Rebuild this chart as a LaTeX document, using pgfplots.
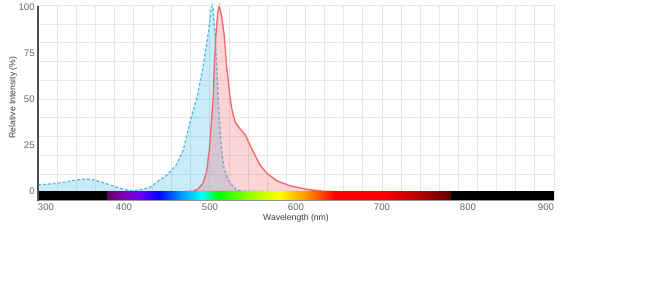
\documentclass[border=0pt]{standalone}
\usepackage{fontspec}
\setmainfont{Liberation Sans}
\usepackage{pgfplots}
\pgfplotsset{compat=1.18}

\definecolor{exline}{RGB}{80,190,235}
\definecolor{emline}{RGB}{242,105,105}
\definecolor{gridc}{RGB}{230,230,230}
\definecolor{tickc}{RGB}{102,102,102}
\definecolor{labc}{RGB}{60,60,60}
\definecolor{c380}{RGB}{97,0,97}
\definecolor{c400}{RGB}{131,0,181}
\definecolor{c420}{RGB}{106,0,255}
\definecolor{c440}{RGB}{0,0,255}
\definecolor{c465}{RGB}{0,146,255}
\definecolor{c490}{RGB}{0,255,255}
\definecolor{c510}{RGB}{0,255,0}
\definecolor{c545}{RGB}{146,255,0}
\definecolor{c580}{RGB}{255,255,0}
\definecolor{c612}{RGB}{255,146,0}
\definecolor{c645}{RGB}{255,0,0}
\definecolor{c700}{RGB}{255,0,0}
\definecolor{c740}{RGB}{190,0,0}
\definecolor{c780}{RGB}{97,0,0}

\pgfdeclarehorizontalshading{visspec}{100bp}{color(0bp)=(black); color(31.66bp)=(black); color(31.67bp)=(c380); color(33.333bp)=(c400); color(35bp)=(c420); color(36.667bp)=(c440); color(38.75bp)=(c465); color(40.833bp)=(c490); color(42.5bp)=(c510); color(45.417bp)=(c545); color(48.333bp)=(c580); color(51bp)=(c612); color(53.75bp)=(c645); color(58.333bp)=(c700); color(61.667bp)=(c740); color(65bp)=(c780); color(65.01bp)=(black); color(100bp)=(black)}

\begin{document}
\begin{tikzpicture}
\useasboundingbox (-28.5pt,-72.375pt) rectangle (460.5pt,150.375pt);
\begin{axis}[
  at={(0,0)}, anchor=south west,
  scale only axis, width=387pt, height=146.1pt,
  xmin=300, xmax=900, ymin=-4.84, ymax=101,
  clip=false,
  axis line style={draw=none},
  major tick length=0pt, minor tick length=0pt,
  /pgf/number format/assume math mode=true,
  xtick={400,500,600,700,800},
  extra x ticks={300,900},
  extra x tick labels={\makebox[0pt][l]{300},\makebox[0pt][r]{900}},
  extra x tick style={grid=none},
  ytick={0,25,50,75,100},
  minor xtick={322.22,344.44,366.67,388.89,411.11,433.33,455.56,477.78,500,522.22,544.44,566.67,588.89,611.11,633.33,655.56,677.78,700,722.22,744.44,766.67,788.89,811.11,833.33,855.56,877.78},
  minor ytick={9.4,19.6,29.8,40,50.2,60.4,70.6,80.8,91},
  grid=minor,
  minor grid style={draw=gridc, line width=0.75pt},
  ticklabel style={font=\fontsize{7.2}{8}\selectfont, text=tickc},
  xticklabel style={inner sep=0pt, yshift=-2.6pt},
  yticklabel style={inner sep=0pt, xshift=-2.3pt},
  xlabel={Wavelength (nm)},
  ylabel={Relative Intensity (\%)},
  label style={font=\fontsize{6.5}{7.5}\selectfont, text=labc},
  xlabel style={at={(axis description cs:0.5,-0.0914)}, anchor=center},
  ylabel style={at={(axis description cs:-0.0484,0.529)}, anchor=center},
]
% excitation
\addplot[draw=exline, line width=1pt, dash pattern=on 2.2pt off 1.5pt, fill=exline, fill opacity=0.3, draw opacity=1] coordinates {
(300,3.6) (310,4.0) (322,4.5) (335,5.5) (347,6.4) (357,6.8) (365,6.4) (372,5.4) (384,3.6) (395,1.8) (403,0.9) (411,0.5) (422,1.3) (432,2.7) (438,5.1) (450,9.0) (461,14.5) (469,22.6) (474,32.6) (479,41.6) (485,51.6) (492,67.9) (498,86.0) (501.2,98.7) (502.7,101) (503.8,98.7) (505.8,86.0) (507.8,67.9) (509.3,51.4) (511.6,34.4) (513.6,21.7) (516.3,12.7) (521.3,6.3) (527,2.7) (531,0.9) (540,0.2) (555,0)
} \closedcycle;
% emission
\addplot[draw=emline, line width=1pt, fill=emline, fill opacity=0.28, draw opacity=1] coordinates {
(470,0) (480,0.2) (486,1.4) (492,4.5) (496,10.8) (499,21.7) (501.2,34.4) (503.8,51.6) (505,67.9) (507,86.0) (508.9,96.9) (510.8,101) (513.6,95.1) (516.3,86.0) (519.4,67.9) (523.3,51.4) (525.2,45.3) (529,38.0) (535,34.0) (541,30.8) (546.5,25.3) (550.3,21.7) (558,14.5) (566,10.0) (578,5.8) (593,3.2) (612,1.3) (632,0.2) (650,0)
} \closedcycle;
% spectrum bar
\fill[shading=visspec] (axis cs:300,-4.84) rectangle (axis cs:900,0);
% frame
\draw[draw=gridc, line width=0.75pt] (rel axis cs:0,1) -- (rel axis cs:1,1) -- (rel axis cs:1,0);
\draw[draw={rgb,255:red,150;green,150;blue,150}, line width=0.75pt] (rel axis cs:0,0) -- (rel axis cs:1,0);
\draw[draw={rgb,255:red,80;green,80;blue,80}, line width=2pt] (rel axis cs:0,0) -- (rel axis cs:0,1);
\end{axis}
\end{tikzpicture}
\end{document}
